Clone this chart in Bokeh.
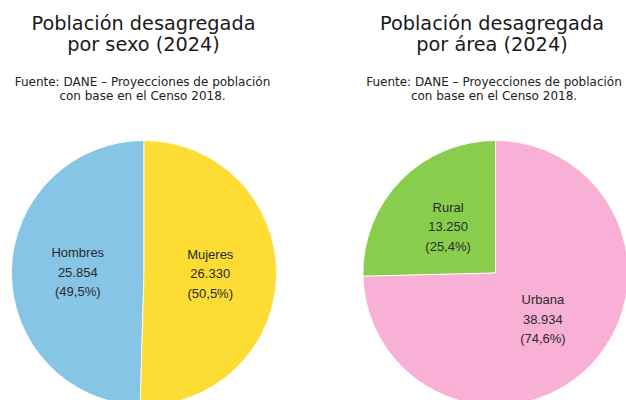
import numpy as np
from bokeh.plotting import figure
from bokeh.models import Range1d, ColumnDataSource
from bokeh.core.properties import value
from bokeh.embed import file_html
from bokeh.resources import INLINE

# ---- data ----
titles = ["Población desagregada\npor sexo (2024)", "Población desagregada\npor área (2024)"]
subtitle = "Fuente: DANE \u2013 Proyecciones de población\ncon base en el Censo 2018."

sexo_labels = ["Hombres", "Mujeres"]
sexo_values = [25.854, 26.330]
sexo_colors = ["#86C5E5", "#FDDC34"]

area_labels = ["Rural", "Urbana"]
area_values = [13.250, 38.934]
area_colors = ["#88CD4B", "#F8B0D6"]

# ---- layout (screen-like coordinates: x = px from left, y = 400 - px from top) ----
W, H = 626, 400
p = figure(width=W, height=H, x_range=Range1d(0, W), y_range=Range1d(400 - H, 400),
           output_backend="svg", toolbar_location=None, min_border=0)
p.axis.visible = False
p.grid.visible = False
p.outline_line_color = None
p.background_fill_color = "white"
p.border_fill_color = "white"

R = 132.5
centers = [(143.5, 127.5), (495.0, 127.5)]
title_x = [143.0, 491.5]
sub_x = [142.0, 493.5]

def draw_pie(cx, cy, labels, values, colors):
    vals = np.array(values, dtype=float)
    frac = vals / vals.sum()
    ends = np.pi / 2 + 2 * np.pi * np.cumsum(frac)
    starts = np.concatenate([[np.pi / 2], ends[:-1]])
    src = ColumnDataSource(dict(start=starts, end=ends, color=colors))
    p.wedge(x=cx, y=cy, radius=R, start_angle="start", end_angle="end",
            direction="anticlock", fill_color="color", line_color="white",
            line_width=1, line_alpha=0.8, source=src)
    mids = (starts + ends) / 2
    lx = cx + 0.5 * R * np.cos(mids)
    ly = cy + 0.5 * R * np.sin(mids)
    for i in range(len(vals)):
        lines = [labels[i], f"{vals[i]:.3f}", "(" + f"{frac[i]*100:.1f}".replace(".", ",") + "%)"]
        for j, t in enumerate(lines):
            p.text(x=[lx[i]], y=[ly[i] + (1 - j) * 19.3], text=[t],
                   text_font=value("Liberation Sans"), text_font_size="13px",
                   text_color="#2a2a2a", text_align="center", text_baseline="middle")

draw_pie(*centers[0], sexo_labels, sexo_values, sexo_colors)
draw_pie(*centers[1], area_labels, area_values, area_colors)

for k in range(2):
    for j, t in enumerate(titles[k].split("\n")):
        p.text(x=[title_x[k]], y=[400 - 22.8 - j * 21.3], text=[t],
               text_font=value("DejaVu Sans"), text_font_size="19.3px",
               text_color="#1a1a1a", text_align="center", text_baseline="alphabetic")
    for j, t in enumerate(subtitle.split("\n")):
        p.text(x=[sub_x[k]], y=[400 - 81.8 - j * 13.6], text=[t],
               text_font=value("DejaVu Sans"), text_font_size="12px",
               text_color="#222222", text_align="center", text_baseline="alphabetic")

open("out.html", "w").write(file_html(p, INLINE))
